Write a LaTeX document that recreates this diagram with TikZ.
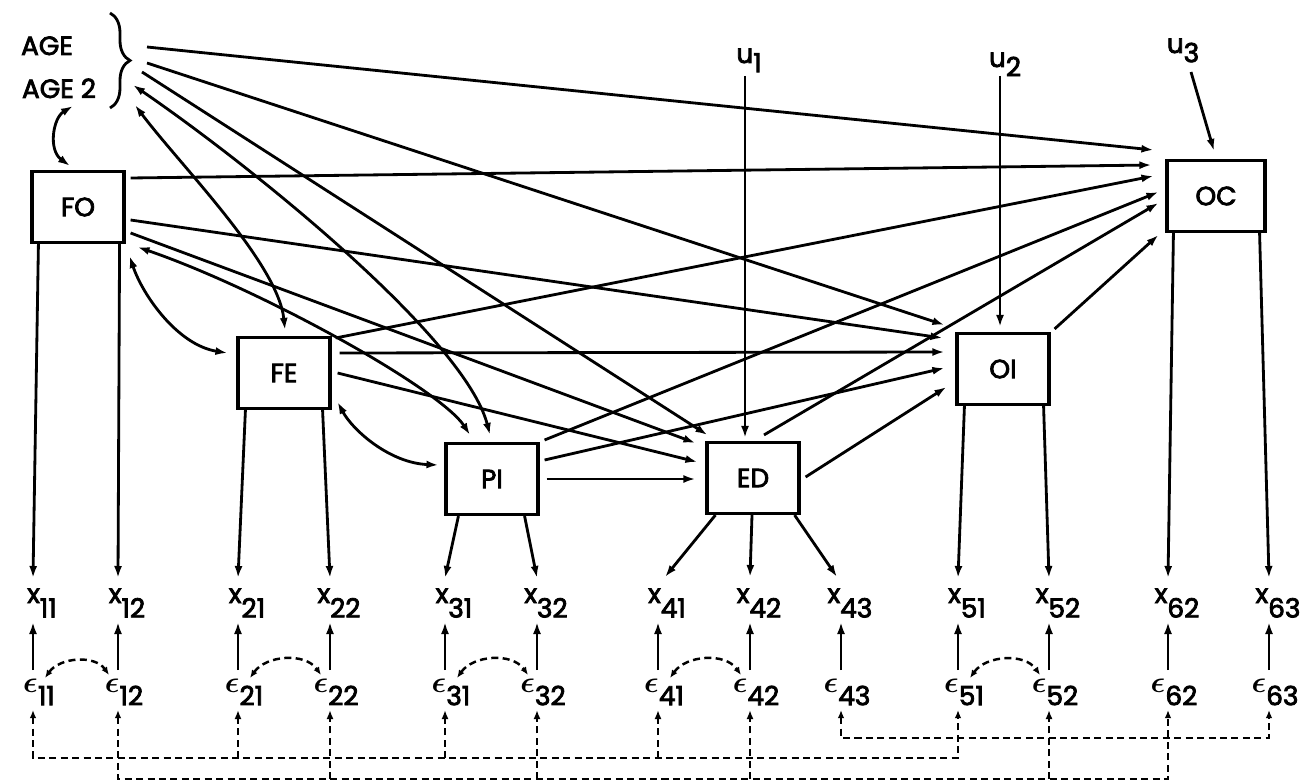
\documentclass[tikz,border=0pt]{standalone}
\usepackage{amsmath}
\usepackage{fontspec}
\setmainfont{Poppins}[FakeBold=3]
\usetikzlibrary{arrows.meta,calc,decorations.pathreplacing}

\begin{document}
\begin{tikzpicture}[
  x=0.02cm, y=-0.02cm,
  box/.style={rectangle, draw, line width=1.8pt, minimum width=1.84cm, minimum height=1.42cm, font=\fontsize{15}{17}\selectfont},
  var/.style={anchor=base, inner sep=0pt, font=\fontsize{15}{17}\selectfont},
  arrow/.style={-{Latex[length=2.4mm,width=1.6mm]}, line width=1.6pt},
  corr/.style={{Latex[length=2.4mm,width=1.6mm]}-{Latex[length=2.4mm,width=1.6mm]}, line width=1.6pt},
  err/.style={dash pattern=on 4pt off 2.5pt, line width=1.4pt},
  errarrow/.style={err, -{Latex[length=1.8mm,width=1.4mm]}},
  errcorr/.style={err, {Latex[length=1.6mm,width=1.3mm]}-{Latex[length=1.6mm,width=1.3mm]}}
]
\useasboundingbox (0,0) rectangle (1300,783);

\node[var] (age) at (47,55) {AGE};
\node[var] (age2) at (59,98) {AGE 2};
\draw[line width=1.6pt, decorate, decoration={brace, amplitude=0.4cm}] (110,13) -- (110,108);
\coordinate (agetip) at (130,62);

\node[box] (FO) at (78,207) {FO};
\node[box] (FE) at (284,373) {FE};
\node[box] (PI) at (492,479) {PI};
\node[box] (ED) at (753,478) {ED};
\node[box] (OI) at (1003,369) {OI};
\node[box, minimum width=1.96cm] (OC) at (1216,196) {OC};

\node[var] (u1) at (749,63) {u\raisebox{-.35em}{1}};
\node[var] (u2) at (1005,67) {u\raisebox{-.35em}{2}};
\node[var] (u3) at (1183,53) {u\raisebox{-.35em}{3}};

\foreach \n/\col in {11/33,12/118,21/238,22/330,31/445,32/537,41/658,42/750,43/841,51/958,52/1049,62/1168,63/1269}{
  \node[var] (x\n) at (\col+9,603) {x\raisebox{-.55em}{\n}};
  \node[var] (e\n) at (\col+6,692) {\scalebox{1.2}{$\boldsymbol{\epsilon}$}\raisebox{-.5em}{\n}};
  \draw[arrow] ($(e\n.base)+(-6,-22)$) -- ($(x\n.base)+(-9,19)$);
}

\draw[arrow] ($(u1.base)+(-4,13)$) -- ($(ED.north)+(-8,-3)$);
\draw[arrow] ($(u2.base)+(-5,9)$) -- ($(OI.north)+(-3,-5)$);
\draw[arrow] ($(u3.base)+(8,19)$) -- ($(OC.north)+(-2,-8)$);

\draw[arrow] ($(agetip)+(17,-15)$) -- ($(OC.west)+(-12,-46)$);
\draw[arrow] ($(agetip)+(17,1)$) -- ($(OI.west)+(-11,-44)$);
\draw[arrow] ($(agetip)+(12,10)$) -- ($(ED.west)+(2,-43)$);
\draw[corr] ($(agetip)+(3,23)$) .. controls ($(agetip)+(120,103)$) and ($(PI.north)+(-27,-104)$) .. ($(PI.north)+(-2,-7)$);
\draw[corr] ($(agetip)+(5,43)$) .. controls ($(agetip)+(50,103)$) and ($(FE.north)+(-6,-73)$) .. ($(FE.north)+(1,-6)$);
\draw[corr] ($(age2.base)+(14,8)$) .. controls ($(age2.base)+(-6,20)$) and ($(FO.north)+(-30,-20)$) .. ($(FO.north)+(-8,-4)$);

\draw[arrow] ($(FO.east)+(5,-29)$) -- ($(OC.west)+(-14,-31)$);
\draw[arrow] ($(FO.east)+(5,13)$) -- ($(OI.west)+(-13,-31)$);
\draw[arrow] ($(FO.east)+(5,26)$) -- ($(ED.west)+(-10,-35)$);
\draw[corr] ($(FO.east)+(12,40)$) .. controls ($(FO.east)+(137,83)$) and ($(PI.north)+(-52,-53)$) .. ($(PI.north)+(-22,-7)$);
\draw[corr] ($(FO.east)+(4,49)$) .. controls ($(FO.east)+(17,88)$) and ($(FE.west)+(-59,-28)$) .. ($(FE.west)+(-9,-20)$);

\draw[arrow] ($(FE.east)+(4,-35)$) -- ($(OC.west)+(-12,-20)$);
\draw[arrow] ($(FE.east)+(8,-20)$) -- ($(OI.west)+(-11,-17)$);
\draw[arrow] ($(FE.east)+(6,0)$) -- ($(ED.west)+(-8,-16)$);
\draw[corr] ($(FE.east)+(6,29)$) .. controls ($(FE.east)+(21,57)$) and ($(PI.west)+(-55,-16)$) .. ($(PI.west)+(-6,-14)$);

\draw[arrow] ($(PI.east)+(5,-39)$) -- ($(OC.west)+(-7,-4)$);
\draw[arrow] ($(PI.east)+(5,-19)$) -- ($(OI.west)+(-11,-1)$);
\draw[arrow] ($(PI.east)+(7,0)$) -- ($(ED.west)+(-10,1)$);

\draw[arrow] ($(ED.north)+(11,-6)$) -- ($(OC.west)+(-7,7)$);
\draw[arrow] ($(ED.east)+(5,-1)$) -- ($(OI.west)+(-9,18)$);
\draw[arrow] ($(OI.north east)+(4,-3)$) -- ($(OC.west)+(-7,39)$);

\draw[arrow] ($(FO.south west)+(8,0)$) -- ($(x11.base)+(-9,-25)$);
\draw[arrow] ($(FO.south east)+(-6,0)$) -- ($(x12.base)+(-9,-25)$);
\draw[arrow] ($(FE.south west)+(9,0)$) -- ($(x21.base)+(-9,-25)$);
\draw[arrow] ($(FE.south east)+(-9,0)$) -- ($(x22.base)+(-9,-25)$);
\draw[arrow] ($(PI.south west)+(14,0)$) -- ($(x31.base)+(-9,-25)$);
\draw[arrow] ($(PI.south east)+(-15,0)$) -- ($(x32.base)+(-9,-25)$);
\draw[arrow] ($(ED.south west)+(10,0)$) -- ($(x41.base)+(-2,-26)$);
\draw[arrow] ($(ED.south)+(-1,0)$) -- ($(x42.base)+(-9,-26)$);
\draw[arrow] ($(ED.south east)+(-6,0)$) -- ($(x43.base)+(-13,-26)$);
\draw[arrow] ($(OI.south west)+(9,0)$) -- ($(x51.base)+(-9,-25)$);
\draw[arrow] ($(OI.south east)+(-7,0)$) -- ($(x52.base)+(-9,-25)$);
\draw[arrow] ($(OC.south west)+(8,0)$) -- ($(x62.base)+(-9,-25)$);
\draw[arrow] ($(OC.south east)+(-7,0)$) -- ($(x63.base)+(-9,-25)$);

\foreach \a/\b in {11/12,21/22,31/32,41/42,51/52}
  \draw[errcorr] ($(e\a.base)+(6,-14)$) to[out=55,in=125] ($(e\b.base)+(-15,-17)$);

\draw[errcorr] ($(e11.base)+(-6,18)$) -- ++(0,48) -| ($(e51.base)+(-6,18)$);
\foreach \n in {21,31,41}
  \draw[errarrow] ($(e\n.base)+(-6,66)$) -- ++(0,-48);
\draw[errcorr] ($(e12.base)+(-6,18)$) -- ++(0,69) -| ($(e62.base)+(-6,18)$);
\foreach \n in {22,32,42,52}
  \draw[errarrow] ($(e\n.base)+(-6,87)$) -- ++(0,-69);
\draw[errcorr] ($(e43.base)+(-6,18)$) -- ++(0,28) -| ($(e63.base)+(-6,18)$);
\end{tikzpicture}
\end{document}
